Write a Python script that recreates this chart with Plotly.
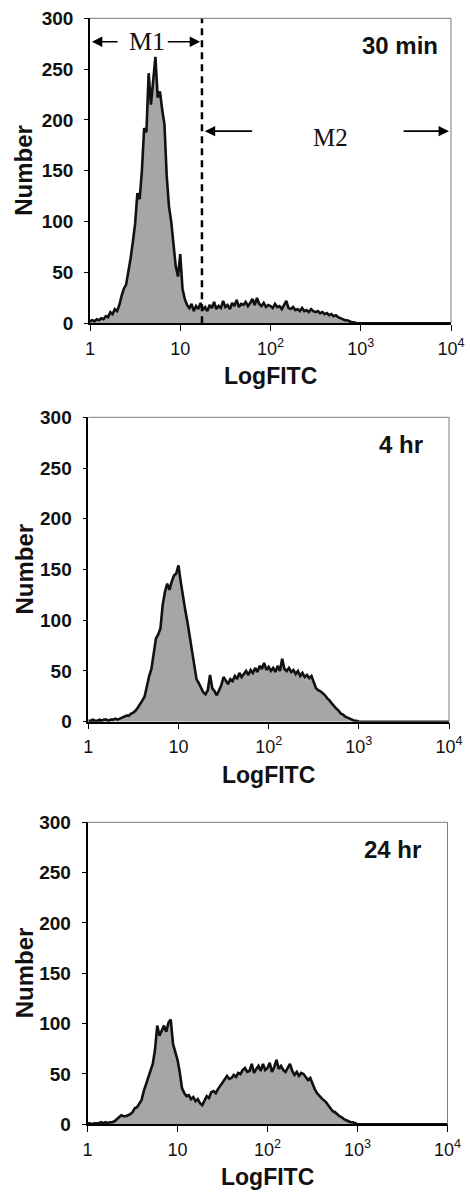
import math
import plotly.graph_objects as go

# ---------------- data ----------------
fitc_channels = [
    1.000, 1.059, 1.122, 1.189, 1.259, 1.334, 1.413, 1.496, 1.585, 1.679,
    1.778, 1.884, 1.995, 2.113, 2.239, 2.371, 2.512, 2.661, 2.818, 2.985,
    3.162, 3.350, 3.548, 3.758, 3.981, 4.217, 4.467, 4.732, 5.012, 5.309,
    5.623, 5.957, 6.310, 6.683, 7.079, 7.499, 7.943, 8.414, 8.913, 9.441,
    10.00, 10.59, 11.22, 11.89, 12.59, 13.34, 14.13, 14.96, 15.85, 16.79,
    17.78, 18.84, 19.95, 21.13, 22.39, 23.71, 25.12, 26.61, 28.18, 29.85,
    31.62, 33.50, 35.48, 37.58, 39.81, 42.17, 44.67, 47.32, 50.12, 53.09,
    56.23, 59.57, 63.10, 66.83, 70.79, 74.99, 79.43, 84.14, 89.13, 94.41,
    100.0, 105.9, 112.2, 118.9, 125.9, 133.4, 141.3, 149.6, 158.5, 167.9,
    177.8, 188.4, 199.5, 211.3, 223.9, 237.1, 251.2, 266.1, 281.8, 298.5,
    316.2, 335.0, 354.8, 375.8, 398.1, 421.7, 446.7, 473.2, 501.2, 530.9,
    562.3, 595.7, 631.0, 668.3, 707.9, 749.9, 794.3, 841.4, 891.3, 944.1,
    1000.0, 3162.0, 10000.0,
]

counts_30min = [
    2, 3, 2, 4, 3, 5, 4, 7, 6, 11,
    9, 14, 12, 18, 27, 34, 38, 50, 64, 80,
    98, 128, 122, 150, 192, 188, 246, 215, 238, 262,
    222, 228, 210, 196, 145, 115, 100, 80, 56, 46,
    68, 34, 24, 18, 15, 19, 12, 17, 14, 20,
    13, 16, 12, 18, 15, 21, 14, 17, 15, 22,
    16, 18, 14, 20, 17, 23, 16, 19, 18, 21,
    17, 20, 24, 18, 25, 19, 17, 20, 16, 18,
    17, 15, 19, 16, 17, 14, 18, 22, 15, 14,
    16, 13, 14, 12, 15, 12, 13, 11, 14, 12,
    11, 12, 10, 11, 9, 10, 8, 9, 7, 8,
    6, 5, 4, 3, 3, 2, 1, 1, 0, 0,
    0, 0, 0,
]

counts_4hr = [
    1, 1, 2, 1, 1, 2, 1, 2, 2, 1,
    2, 2, 3, 2, 3, 4, 5, 6, 6, 8,
    9, 11, 14, 17, 21, 25, 36, 45, 52, 70,
    82, 86, 92, 115, 128, 136, 130, 138, 144, 146,
    154, 138, 122, 110, 98, 85, 70, 56, 42, 38,
    33, 29, 27, 31, 46, 33, 30, 26, 31, 36,
    44, 40, 37, 42, 40, 45, 42, 48, 44, 47,
    50, 46, 51, 48, 53, 49, 55, 52, 58, 51,
    54, 50, 53, 49, 55, 50, 62, 52, 50, 53,
    49, 51, 47, 50, 45, 48, 44, 46, 43, 45,
    38, 33, 31, 30, 28, 26, 23, 21, 18, 15,
    13, 11, 8, 7, 5, 4, 3, 2, 1, 1,
    0, 0, 0,
]

counts_24hr = [
    1, 1, 0, 1, 1, 1, 2, 1, 2, 1,
    2, 2, 3, 5, 7, 9, 8, 8, 9, 10,
    12, 16, 17, 20, 24, 33, 40, 47, 52, 60,
    74, 98, 88, 93, 98, 92, 101, 104, 80, 72,
    64, 52, 36, 31, 28, 29, 25, 27, 23, 25,
    21, 19, 23, 28, 26, 32, 33, 31, 35, 38,
    41, 44, 48, 45, 46, 49, 47, 51, 50, 54,
    56, 52, 53, 60, 51, 55, 58, 53, 60, 54,
    56, 61, 52, 57, 64, 55, 58, 54, 52, 56,
    60, 53, 49, 52, 48, 51, 50, 47, 44, 46,
    40, 35, 31, 28, 26, 24, 22, 19, 16, 13,
    12, 10, 8, 7, 5, 4, 3, 2, 2, 1,
    0, 0, 0,
]

panel_labels = ["30 min", "4 hr", "24 hr"]
y_tick_values = [0, 50, 100, 150, 200, 250, 300]
x_tick_values = [1, 10, 100, 1000, 10000]
x_tick_text = ["1", "10", "10<sup>2</sup>", "10<sup>3</sup>", "10<sup>4</sup>"]
gate_boundary = 17.4          # M1 | M2 boundary (LogFITC)
x_min, x_max = 1, 10000

# ---------------- layout geometry (pixels) ----------------
W, H = 470, 1192
boxes = [  # left, right, top, bottom (px)
    (90.0, 451.0, 18.3, 323.3),
    (88.3, 449.0, 417.3, 721.7),
    (87.5, 447.5, 822.3, 1124.3),
]
label_offsets = [11, 24, 25]  # px in from right edge for the time label

SANS = "Arial, 'Liberation Sans', sans-serif"
SERIF = "'Times New Roman', 'Liberation Serif', serif"

def px(x):
    return x / W

def py(y):
    return 1 - y / H

fig = go.Figure()
series = [counts_30min, counts_4hr, counts_24hr]
annotations = []
shapes = []
layout = dict(
    width=W, height=H,
    margin=dict(l=0, r=0, t=0, b=0),
    paper_bgcolor="white", plot_bgcolor="white",
    showlegend=False,
)

for i, (vals, box) in enumerate(zip(series, boxes)):
    n = "" if i == 0 else str(i + 1)
    left, right, top, bottom = box
    fig.add_trace(go.Scatter(
        x=fitc_channels, y=vals,
        mode="lines", fill="tozeroy",
        fillcolor="#a6a6a6",
        line=dict(color="#111111", width=2.6),
        xaxis="x" + n, yaxis="y" + n,
        hoverinfo="skip",
    ))
    layout["xaxis" + n] = dict(
        domain=[px(left), px(right)], anchor="y" + n,
        type="log", range=[math.log10(x_min), math.log10(x_max)],
        tickvals=x_tick_values, ticktext=x_tick_text,
        ticks="outside", ticklen=6, tickwidth=1.3, tickcolor="black",
        tickfont=dict(family=SANS, size=18, color="#111"),
        showline=True, linecolor="black", linewidth=1.5,
        showgrid=False, zeroline=False, automargin=False,
        ticklabelstandoff=2,
    )
    layout["yaxis" + n] = dict(
        domain=[py(bottom), py(top)], anchor="x" + n,
        range=[0, 300], tickvals=y_tick_values,
        ticks="outside", ticklen=4, tickwidth=1.2, tickcolor="black",
        tickfont=dict(family=SANS, size=19, color="#111", weight="bold"),
        showline=True, linecolor="black", linewidth=1.5,
        showgrid=False, zeroline=False, automargin=False,
        ticklabelstandoff=7,
    )
    # thin grey top & right frame
    shapes.append(dict(type="line", xref="x" + n + " domain", yref="y" + n + " domain",
                       x0=0, x1=1, y0=1, y1=1, line=dict(color="#7a7a7a", width=1)))
    shapes.append(dict(type="line", xref="x" + n + " domain", yref="y" + n + " domain",
                       x0=1, x1=1, y0=0, y1=1, line=dict(color="#7a7a7a", width=1)))
    # axis titles
    annotations.append(dict(
        xref="paper", yref="paper", x=px(24), y=py((top + bottom) / 2),
        text="<b>Number</b>", textangle=-90, showarrow=False,
        xanchor="center", yanchor="middle",
        font=dict(family=SANS, size=24, color="#111"),
    ))
    annotations.append(dict(
        xref="paper", yref="paper", x=px((left + right) / 2), y=py(bottom + 53),
        text="<b>LogFITC</b>", showarrow=False,
        xanchor="center", yanchor="middle",
        font=dict(family=SANS, size=23, color="#111"),
    ))
    # time label
    annotations.append(dict(
        xref="paper", yref="paper", x=px(right - label_offsets[i]), y=py(top + 27.5),
        text="<b>" + panel_labels[i] + "</b>", showarrow=False,
        xanchor="right", yanchor="middle",
        font=dict(family=SANS, size=24, color="#111"),
    ))

# dashed gate boundary in top panel
fig.add_trace(go.Scatter(
    x=[gate_boundary, gate_boundary], y=[0, 300], mode="lines",
    line=dict(color="black", width=2.5, dash="7px,5px"),
    xaxis="x", yaxis="y", hoverinfo="skip",
))

# M1 / M2 markers (annotation coordinates on a log axis are log10 values)
L = math.log10
arrow_style = dict(showarrow=True, arrowhead=2, arrowsize=1.3, arrowwidth=1.6,
                   arrowcolor="black", xref="x", yref="y", axref="x", ayref="y",
                   text="", standoff=0, startstandoff=0)
m1_y, m2_y = 277, 189
annotations += [
    dict(x=L(1.05), y=m1_y, ax=L(2.1), ay=m1_y, **arrow_style),
    dict(x=L(16.6), y=m1_y, ax=L(7.0), ay=m1_y, **arrow_style),
    dict(x=L(18.7), y=m2_y, ax=L(65), ay=m2_y, **arrow_style),
    dict(x=L(9500), y=m2_y, ax=L(2870), ay=m2_y, **arrow_style),
    dict(x=L(4.3), y=m1_y, xref="x", yref="y", text="M1", showarrow=False,
         font=dict(family=SERIF, size=26, color="#111")),
    dict(x=L(460), y=m2_y - 6, xref="x", yref="y", text="M2", showarrow=False,
         font=dict(family=SERIF, size=25, color="#111")),
]

layout["annotations"] = annotations
layout["shapes"] = shapes
fig.update_layout(**layout)
fig.write_html("out.html")
